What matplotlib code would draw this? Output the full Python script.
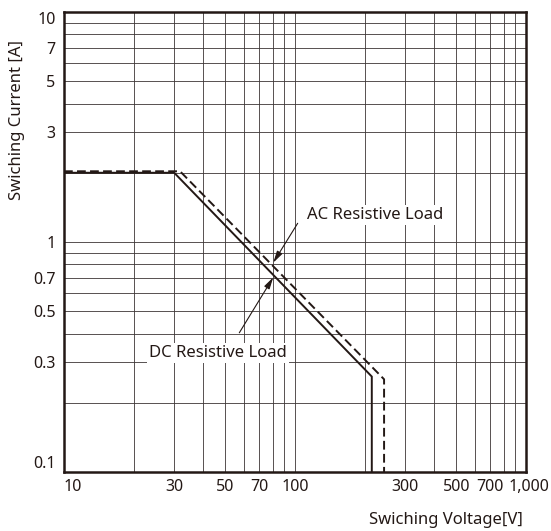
"""Switching capacity chart (log-log) with DC and AC resistive load limits."""

import matplotlib
matplotlib.use("Agg")
import matplotlib.pyplot as plt
from matplotlib.ticker import FixedLocator, NullFormatter
from matplotlib.transforms import offset_copy

plt.rcParams["font.family"] = ["Noto Sans", "DejaVu Sans"]

# Data.
dc_voltage = [10, 30, 215, 215]
dc_current = [2.0, 2.0, 0.26, 0.1]
ac_voltage = [10, 31.8, 243, 243]
ac_current = [2.03, 2.03, 0.253, 0.1]

x_ticks = [10, 30, 50, 70, 100, 300, 500, 700, 1000]
x_tick_labels = ["10", "30", "50", "70", "100", "300", "500", "700", "1,000"]
x_minor = [20, 40, 60, 80, 90, 200, 400, 600, 800, 900]
y_ticks = [0.1, 0.3, 0.5, 0.7, 1, 3, 5, 7, 10]
y_tick_labels = ["0.1", "0.3", "0.5", "0.7", "1", "3", "5", "7", "10"]
y_minor = [0.2, 0.4, 0.6, 0.8, 0.9, 2, 4, 6, 8, 9]

INK = "#231815"
GRID = "#3c3434"
FS = 12

fig = plt.figure(figsize=(5.51, 5.31), dpi=100)
ax = fig.add_axes([64 / 551, 1 - 472 / 531, 462 / 551, 460 / 531])
ax.set_xscale("log")
ax.set_yscale("log")
ax.set_xlim(10, 1000)
ax.set_ylim(0.1, 10)

ax.xaxis.set_major_locator(FixedLocator(x_ticks))
ax.xaxis.set_minor_locator(FixedLocator(x_minor))
ax.yaxis.set_major_locator(FixedLocator(y_ticks))
ax.yaxis.set_minor_locator(FixedLocator(y_minor))
ax.set_xticklabels(x_tick_labels)
ax.set_yticklabels(y_tick_labels)
ax.xaxis.set_minor_formatter(NullFormatter())
ax.yaxis.set_minor_formatter(NullFormatter())
ax.tick_params(which="both", length=0, labelsize=11.5, colors=INK)
ax.tick_params(axis="x", pad=5)
ax.tick_params(axis="y", pad=6)
xt = ax.xaxis.get_major_ticks()
xt[0].label1.set_horizontalalignment("left")
last = xt[-1].label1
last.set_transform(offset_copy(last.get_transform(), fig=fig, x=3, y=0, units="dots"))
yt = ax.yaxis.get_major_ticks()
yt[0].label1.set_verticalalignment("bottom")
yt[-1].label1.set_verticalalignment("top")

ax.grid(which="both", color=GRID, linewidth=0.6)
ax.set_axisbelow(True)
for spine in ax.spines.values():
    spine.set_color(INK)
    spine.set_linewidth(1.8)

ax.plot(dc_voltage, dc_current, color=INK, linewidth=1.4, solid_joinstyle="miter", zorder=3)
ax.plot(ac_voltage, ac_current, color=INK, linewidth=1.4, linestyle=(0, (4.5, 2.2)), zorder=3)

arrow = dict(arrowstyle="-|>,head_length=0.7,head_width=0.18", color=INK, linewidth=0.8,
             shrinkA=0, shrinkB=0)
ax.annotate("", xy=(80.5, 0.813), xytext=(102.7, 1.206), arrowprops=arrow, zorder=4)
ax.annotate("", xy=(80.5, 0.702), xytext=(57.4, 0.403), arrowprops=arrow, zorder=4)

box = dict(facecolor="white", edgecolor="none", pad=1.5)
ax.text(112.7, 1.31, "AC Resistive Load", fontsize=FS, color=INK, va="center", ha="left",
        bbox=box, zorder=5)
ax.text(23.3, 0.329, "DC Resistive Load", fontsize=FS, color=INK, va="center", ha="left",
        bbox=box, zorder=5)

fig.text(17 / 551, 1 - 120 / 531, "Swiching Current [A]", rotation=90, fontsize=FS,
         color=INK, ha="center", va="center")
fig.text(523 / 551, 1 - 520 / 531, "Swiching Voltage[V]", fontsize=FS, color=INK,
         ha="right", va="center")

fig.savefig("out.png", dpi=100)
